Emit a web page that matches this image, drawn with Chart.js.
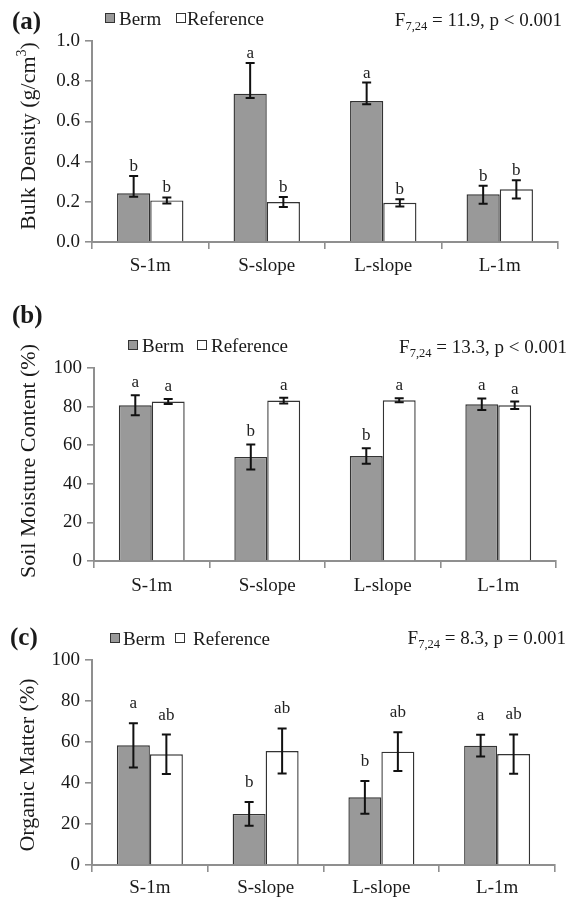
<!DOCTYPE html>
<html>
<head>
<meta charset="utf-8">
<script src="https://cdn.jsdelivr.net/npm/chart.js@4.4.1/dist/chart.umd.min.js"></script>
<style>
  html,body{margin:0;padding:0;background:#fff;}
  body{width:581px;height:898px;overflow:hidden;position:relative;font-family:"Liberation Serif","Times New Roman",serif;color:#1a1a1a;}
  canvas{position:absolute;left:0;}
  .t{position:absolute;white-space:nowrap;line-height:1;}
  .lab{font-weight:bold;font-size:25px;}
  .leg{font-size:19px;}
  .fs{font-size:19px;text-align:right;}
  .fs span{font-size:12.5px;position:relative;top:4px;}
  .sq{position:absolute;width:8px;height:8px;border:1.2px solid #333;}
  .yt{position:absolute;white-space:nowrap;line-height:1;font-size:22px;transform:translate(-50%,-50%) rotate(-90deg);}
  .yt sup{font-size:14px;position:relative;top:-2px;vertical-align:top;}
</style>
</head>
<body>
<canvas id="ca" width="581" height="285" style="top:0px"></canvas>
<canvas id="cb" width="581" height="310" style="top:290px"></canvas>
<canvas id="cc" width="581" height="298" style="top:600px"></canvas>

<!-- panel (a) annotations -->
<div class="t lab" style="left:12px;top:8px">(a)</div>
<div class="sq" style="left:105px;top:13px;background:#999"></div>
<div class="t leg" style="left:119px;top:9px">Berm</div>
<div class="sq" style="left:176px;top:13px;background:#fff"></div>
<div class="t leg" style="left:187px;top:9px">Reference</div>
<div class="t fs" style="right:19px;top:10px">F<span>7,24</span> = 11.9, p &lt; 0.001</div>
<div class="yt" style="left:28px;top:136px">Bulk Density (g/cm<sup>3</sup>)</div>

<!-- panel (b) annotations -->
<div class="t lab" style="left:12px;top:302px">(b)</div>
<div class="sq" style="left:128px;top:340px;background:#999"></div>
<div class="t leg" style="left:142px;top:336px">Berm</div>
<div class="sq" style="left:197px;top:340px;background:#fff"></div>
<div class="t leg" style="left:211px;top:336px">Reference</div>
<div class="t fs" style="right:14px;top:337px">F<span>7,24</span> = 13.3, p &lt; 0.001</div>
<div class="yt" style="left:28px;top:461px">Soil Moisture Content (%)</div>

<!-- panel (c) annotations -->
<div class="t lab" style="left:10px;top:624px">(c)</div>
<div class="sq" style="left:110px;top:633px;background:#999"></div>
<div class="t leg" style="left:123px;top:629px">Berm</div>
<div class="sq" style="left:175px;top:633px;background:#fff"></div>
<div class="t leg" style="left:193px;top:629px">Reference</div>
<div class="t fs" style="right:15px;top:628px">F<span>7,24</span> = 8.3, p = 0.001</div>
<div class="yt" style="left:27px;top:765px">Organic Matter (%)</div>

<script>
// ---------------- data ----------------
const categories = ['S-1m', 'S-slope', 'L-slope', 'L-1m'];

// (a) Bulk density (g/cm3)
const bulkBerm          = [0.242, 0.738, 0.701, 0.237];
const bulkBermErrUp     = [0.086, 0.152, 0.092, 0.043];
const bulkBermErrDown   = [0.017, 0.022, 0.016, 0.047];
const bulkRef           = [0.207, 0.199, 0.195, 0.262];
const bulkRefErr        = [0.015, 0.025, 0.018, 0.045];
const bulkBermLetters   = ['b', 'a', 'a', 'b'];
const bulkRefLetters    = ['b', 'b', 'b', 'b'];
const bulkTicks         = ['0.0', '0.2', '0.4', '0.6', '0.8', '1.0'];

// (b) Soil moisture content (%)
const moistBerm         = [80.7, 53.9, 54.4, 81.2];
const moistBermErr      = [5.2, 6.5, 4.0, 3.0];
const moistRef          = [82.6, 83.1, 83.3, 80.7];
const moistRefErr       = [1.3, 1.5, 1.0, 1.9];
const moistBermLetters  = ['a', 'b', 'b', 'a'];
const moistRefLetters   = ['a', 'a', 'a', 'a'];
const moistTicks        = ['0', '20', '40', '60', '80', '100'];

// (c) Organic matter (%)
const omBerm            = [58.4, 24.9, 33.0, 58.2];
const omBermErr         = [10.8, 5.8, 8.0, 5.3];
const omRef             = [54.0, 55.6, 55.3, 54.1];
const omRefErr          = [9.6, 11.0, 9.4, 9.6];
const omBermLetters     = ['a', 'b', 'b', 'a'];
const omRefLetters      = ['ab', 'ab', 'ab', 'ab'];
const omTicks           = ['0', '20', '40', '60', '80', '100'];

// ---------------- styling ----------------
const FONT = '"Liberation Serif","Times New Roman",serif';
const AXIS = '#8f8f8f';
const BERM_FILL = '#999999';
const REF_FILL = '#ffffff';
const EDGE = '#333333';

const errorBarPlugin = {
  id: 'errbars',
  afterDatasetsDraw(chart, args, opts) {
    const ctx = chart.ctx;
    const ys = chart.scales.y;
    chart.data.datasets.forEach((ds, i) => {
      const meta = chart.getDatasetMeta(i);
      meta.data.forEach((el, j) => {
        const v = ds.data[j];
        const yt = ys.getPixelForValue(v + ds.errUp[j]);
        const yb = ys.getPixelForValue(v - ds.errDown[j]);
        const x = el.x;
        ctx.save();
        ctx.strokeStyle = '#111';
        ctx.lineWidth = 2;
        ctx.beginPath();
        ctx.moveTo(x, yt); ctx.lineTo(x, yb);
        ctx.moveTo(x - 4.5, yt); ctx.lineTo(x + 4.5, yt);
        ctx.moveTo(x - 4.5, yb); ctx.lineTo(x + 4.5, yb);
        ctx.stroke();
        ctx.font = '17px ' + FONT;
        ctx.fillStyle = '#222';
        ctx.textAlign = 'center';
        ctx.textBaseline = 'alphabetic';
        ctx.fillText(ds.letters[j], x, yt - opts.offset);
        ctx.restore();
      });
    });
  }
};

function makeChart(id, cfg) {
  const ds = (label, data, up, down, letters, fill) => ({
    label, data, errUp: up, errDown: down, letters,
    backgroundColor: fill, borderColor: EDGE, borderWidth: 1.4,
    categoryPercentage: 0.57, barPercentage: 1.0
  });
  return new Chart(document.getElementById(id), {
    type: 'bar',
    data: {
      labels: categories,
      datasets: [
        ds('Berm', cfg.berm, cfg.bermUp, cfg.bermDown, cfg.bermLetters, BERM_FILL),
        ds('Reference', cfg.ref, cfg.refErr, cfg.refErr, cfg.refLetters, REF_FILL)
      ]
    },
    options: {
      responsive: false,
      animation: false,
      events: [],
      layout: { padding: { top: cfg.top, right: cfg.right, left: 0, bottom: 0 } },
      plugins: {
        legend: { display: false },
        tooltip: { enabled: false },
        errbars: { offset: cfg.letterOffset }
      },
      scales: {
        x: {
          grid: { display: true, drawOnChartArea: false, drawTicks: true, tickLength: 7, color: AXIS, lineWidth: 1.6, offset: true },
          border: { color: AXIS, width: 2 },
          ticks: { font: { family: FONT, size: 19 }, color: '#1a1a1a', padding: cfg.xPad, maxRotation: 0 },
          afterFit(s) { s.height = cfg.xHeight; }
        },
        y: {
          min: 0, max: cfg.max,
          grid: { display: true, drawOnChartArea: false, drawTicks: true, tickLength: 7, color: AXIS, lineWidth: 1.6 },
          border: { color: AXIS, width: 2 },
          ticks: {
            stepSize: cfg.max / 5,
            font: { family: FONT, size: 19 }, color: '#1a1a1a', padding: 5,
            callback: (v, i) => cfg.ticks[i]
          },
          afterFit(s) { s.width = cfg.left; }
        }
      }
    },
    plugins: [errorBarPlugin]
  });
}

makeChart('ca', {
  berm: bulkBerm, bermUp: bulkBermErrUp, bermDown: bulkBermErrDown, bermLetters: bulkBermLetters,
  ref: bulkRef, refErr: bulkRefErr, refLetters: bulkRefLetters,
  ticks: bulkTicks, max: 1.0,
  top: 41, right: 23, left: 92, xHeight: 285 - 242, xPad: 6, letterOffset: 5
});

makeChart('cb', {
  berm: moistBerm, bermUp: moistBermErr, bermDown: moistBermErr, bermLetters: moistBermLetters,
  ref: moistRef, refErr: moistRefErr, refLetters: moistRefLetters,
  ticks: moistTicks, max: 100,
  top: 78, right: 25, left: 94, xHeight: 310 - 271, xPad: 7, letterOffset: 8
});

makeChart('cc', {
  berm: omBerm, bermUp: omBermErr, bermDown: omBermErr, bermLetters: omBermLetters,
  ref: omRef, refErr: omRefErr, refLetters: omRefLetters,
  ticks: omTicks, max: 100,
  top: 60, right: 26, left: 92, xHeight: 298 - 265, xPad: 5, letterOffset: 15
});
</script>
</body>
</html>
